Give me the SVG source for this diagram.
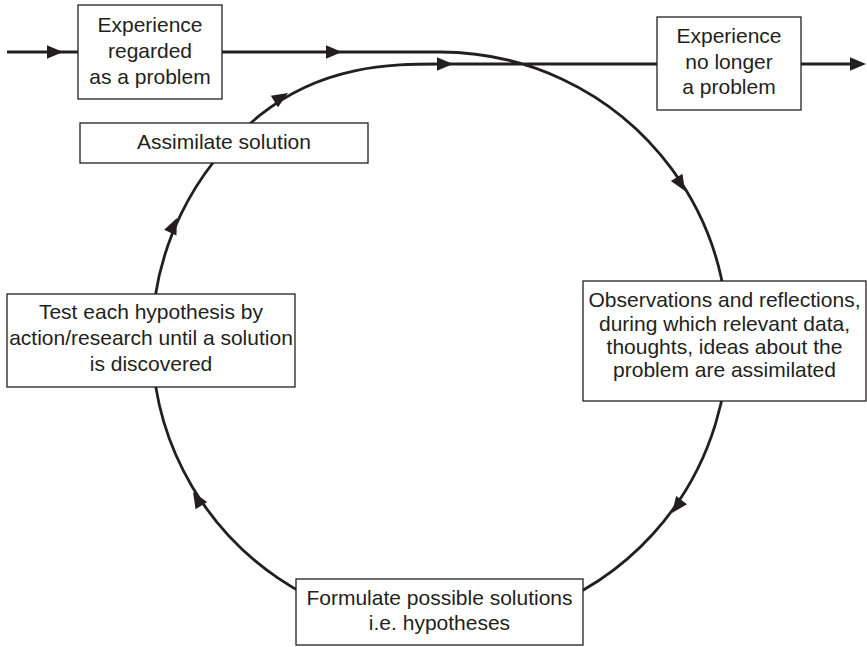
<svg xmlns="http://www.w3.org/2000/svg" width="867" height="647" viewBox="0 0 867 647">
<style>
.conn{fill:none;stroke:#231f20;stroke-width:2.8}
.box{fill:#fff;stroke:#231f20;stroke-width:1.3}
.t{font-family:"Liberation Sans",Arial,sans-serif;font-size:21px;fill:#231f20;text-anchor:middle}
.ah{fill:#231f20}
</style>
<defs>
<path id="ah" class="ah" d="M0,0 L-16,-6.8 L-16,6.8 Z"/>
</defs>
<rect width="867" height="647" fill="#fff"/>
<g id="connectors">
<path class="conn" d="M7,52 H78"/>
<path class="conn" d="M222,52 H440 A288,288 0 1 1 260,115.2 C322.4,65.2 390,64 440,64 H657"/>
<path class="conn" d="M801,64 H855"/>
<use href="#ah" transform="translate(63,52)"/>
<use href="#ah" transform="translate(342,52)"/>
<use href="#ah" transform="translate(453,64)"/>
<use href="#ah" transform="translate(866,64)"/>
<use href="#ah" transform="translate(685,191) rotate(58.6)"/>
<use href="#ah" transform="translate(672,513) rotate(126.7)"/>
<use href="#ah" transform="translate(193,492) rotate(-121.6)"/>
<use href="#ah" transform="translate(177,218) rotate(-65.1)"/>
<use href="#ah" transform="translate(288,93) rotate(-31.8)"/>
</g>
<g id="n_problem">
<rect class="box" x="78" y="5" width="144" height="94"/>
<text class="t" x="150" y="32">Experience</text>
<text class="t" x="150" y="58">regarded</text>
<text class="t" x="150" y="84">as a problem</text>
</g>
<g id="n_noproblem">
<rect class="box" x="657" y="17" width="144" height="93"/>
<text class="t" x="729" y="43">Experience</text>
<text class="t" x="729" y="69">no longer</text>
<text class="t" x="729" y="94">a problem</text>
</g>
<g id="n_assimilate">
<rect class="box" x="80" y="123" width="288" height="40"/>
<text class="t" x="224" y="149">Assimilate solution</text>
</g>
<g id="n_test">
<rect class="box" x="7" y="294" width="288" height="93"/>
<text class="t" x="151" y="319">Test each hypothesis by</text>
<text class="t" x="151" y="345">action/research until a solution</text>
<text class="t" x="151" y="371">is discovered</text>
</g>
<g id="n_observe">
<rect class="box" x="583" y="281" width="283" height="120"/>
<text class="t" x="724.5" y="307">Observations and reflections,</text>
<text class="t" x="724.5" y="330.5">during which relevant data,</text>
<text class="t" x="724.5" y="354">thoughts, ideas about the</text>
<text class="t" x="724.5" y="377">problem are assimilated</text>
</g>
<g id="n_formulate">
<rect class="box" x="296" y="579" width="287" height="66"/>
<text class="t" x="439.5" y="605">Formulate possible solutions</text>
<text class="t" x="439.5" y="630">i.e. hypotheses</text>
</g>
</svg>
